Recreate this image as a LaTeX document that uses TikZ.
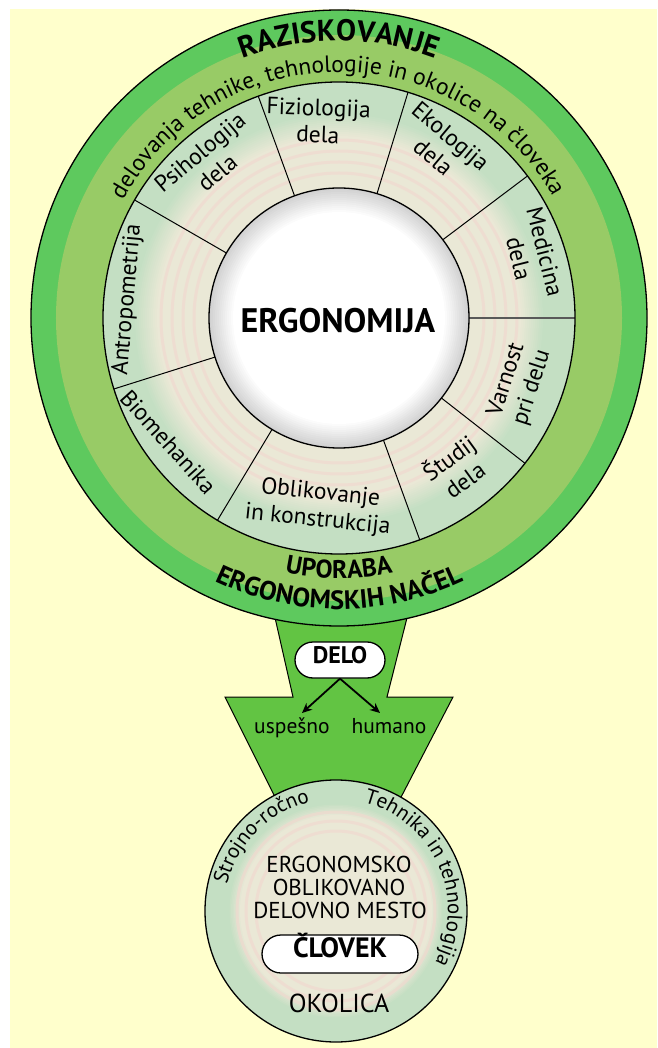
\documentclass[tikz,border=0pt]{standalone}
\usepackage{fontspec}
\setmainfont{PT Sans}
\usetikzlibrary{arrows.meta,shapes.misc,decorations.text,calc}
\definecolor{bgY}{HTML}{FFFFCC}
\definecolor{ringD}{HTML}{5EC95E}
\definecolor{ringL}{HTML}{98CB66}
\definecolor{funG}{HTML}{62C443}
\definecolor{segG}{HTML}{C4DFC3}
\definecolor{beigeC}{HTML}{EAE8D6}
\definecolor{pinkC}{HTML}{F2D6CE}
\newcommand\myfs[2]{\fontsize{#1}{#2}\selectfont}
\begin{document}
\begin{tikzpicture}[x=1pt,y=1pt,
  seglabel/.style={align=center,font=\myfs{23.5}{27},inner sep=0pt},
  pill/.style={draw,line width=1.3pt,fill=white,rounded rectangle,inner sep=0pt,text height=0.7em,text depth=0pt},
  arr/.style={line width=1.8pt,-{Stealth[length=10pt,width=9pt]}},
  divline/.style={line width=1pt},
  outl/.style={line width=1.3pt}]

\useasboundingbox (-339,318) rectangle (318,-730);
\fill[bgY] (-329,309) rectangle (318,-730);

% funnel
\draw[fill=funG,line width=1pt,line join=miter] (-68,-282) -- (-46,-379) -- (-114,-379) -- (-47.5,-512) -- (45,-512) -- (114,-379) -- (48,-379) -- (72.5,-282) -- cycle;

% big circle
\draw[fill=ringD,outl] (0,0) circle[radius=308];
\fill[ringL] (0,0) circle[radius=283];

% segment ring
\fill[segG] (0,0) circle[radius=236];
\foreach \i in {0,...,12}{
  \pgfmathsetmacro\rr{206-\i*2}
  \pgfmathsetmacro\pp{100-\i*100/12}
  \fill[segG!\pp!beigeC] (0,0) circle[radius=\rr];
}
\foreach \r in {145,156,167,178}{\draw[pinkC,line width=3pt,opacity=0.6] (0,0) circle[radius=\r];}
\foreach \a in {37,73,110,150,197.5,239,290,322}{\draw[divline] (\a:130) -- (\a:236);}
\draw[black!65,line width=2.2pt] (0:130) -- (0:236);
\draw[outl] (0,0) circle[radius=236];

% white centre
\foreach \i in {0,...,12}{
  \pgfmathsetmacro\rr{130-\i*2}
  \pgfmathsetmacro\pp{18-\i*1.5}
  \fill[black!\pp!white] (0,0) circle[radius=\rr];
}
\fill[white] (0,0) circle[radius=104];
\draw[outl] (0,0) circle[radius=130];
\node[anchor=base,font=\bfseries\myfs{34}{34}] (ergo) at (-1,-15) {ERGONOMIJA};

% segment labels
\node[seglabel,rotate=40] (psih) at (130:203) {Psihologija\\dela};
\node[seglabel,rotate=-2] (fiz) at (96:198) {Fiziologija\\dela};
\node[seglabel,rotate=-40] (eko) at (59:200) {Ekologija\\dela};
\node[seglabel,rotate=-76] (med) at (18:203) {Medicina\\dela};
\node[seglabel,rotate=72] (varn) at (-20:192) {Varnost\\pri delu};
\node[seglabel,rotate=36] (stud) at (-52:190) {Študij\\dela};
\node[seglabel,rotate=-6] (obl) at (-96:190) {Oblikovanje\\in konstrukcija};
\node[seglabel,rotate=-48] (bio) at (216:211) {Biomehanika};
\node[seglabel,rotate=85] (antro) at (175:212) {Antropometrija};

% ring texts
\path[decorate,decoration={text along path,text align=center,text={|\bfseries\myfs{30}{30}|RAZISKOVANJE}}] (150:277) arc[start angle=150,end angle=30,radius=277];
\path[decorate,decoration={text along path,text align=center,text={|\myfs{23.5}{23.5}|delovanja tehnike, tehnologije in okolice na človeka}}] (178:246) arc[start angle=178,end angle=3,radius=246];
\path[decorate,decoration={text along path,text align=center,text={|\bfseries\myfs{25.5}{25.5}|UPORABA}}] (200:260) arc[start angle=200,end angle=340,radius=260];
\path[decorate,decoration={text along path,text align=center,text={|\bfseries\myfs{26.5}{26.5}|ERGONOMSKIH NAČEL}}] (195:291) arc[start angle=195,end angle=345,radius=291];

% bottom circle
\coordinate (bc) at (-3,-593);
\draw[fill=segG,outl] (bc) circle[radius=131];
\foreach \i in {0,...,8}{
  \pgfmathsetmacro\rr{108-\i*1.5}
  \pgfmathsetmacro\pp{100-\i*100/8}
  \fill[segG!\pp!beigeC] (bc) circle[radius=\rr];
}
\foreach \r in {80,90,99}{\draw[pinkC,line width=3pt,opacity=0.6] (bc) circle[radius=\r];}
\path[decorate,decoration={text along path,text align=center,text={|\myfs{21}{21}|Strojno-ročno}}] ($(bc)+(177:112)$) arc[start angle=177,end angle=93,radius=112];
\path[decorate,decoration={text along path,text align=center,text={|\myfs{21}{21}|Tehnika in tehnologija}}] ($(bc)+(88:112)$) arc[start angle=88,end angle=-40,radius=112];
\node[anchor=base,font=\myfs{23}{23}] (t1) at (0,-554) {ERGONOMSKO};
\node[anchor=base,font=\myfs{23}{23}] (t2) at (0,-577) {OBLIKOVANO};
\node[anchor=base,font=\myfs{23}{23}] (t3) at (1,-600) {DELOVNO MESTO};
\node[pill,font=\bfseries\myfs{28}{28},minimum width=156,minimum height=38] (clovek) at (1,-636) {ČLOVEK};
\node[anchor=base,font=\myfs{26}{26}] (okolica) at (0,-694) {OKOLICA};

% delo
\node[pill,font=\bfseries\myfs{24}{24},minimum width=90,minimum height=36] (delo) at (1,-342) {DELO};
\node[anchor=base,font=\myfs{21.5}{21.5}] (usp) at (-47,-415) {uspešno};
\node[anchor=base,font=\myfs{21.5}{21.5}] (hum) at (50,-415) {humano};
\coordinate (aL) at (-37,-395);
\coordinate (aR) at (41,-395);
\draw[arr] (delo.south) -- (aL);
\draw[arr] (delo.south) -- (aR);
\end{tikzpicture}
\end{document}
